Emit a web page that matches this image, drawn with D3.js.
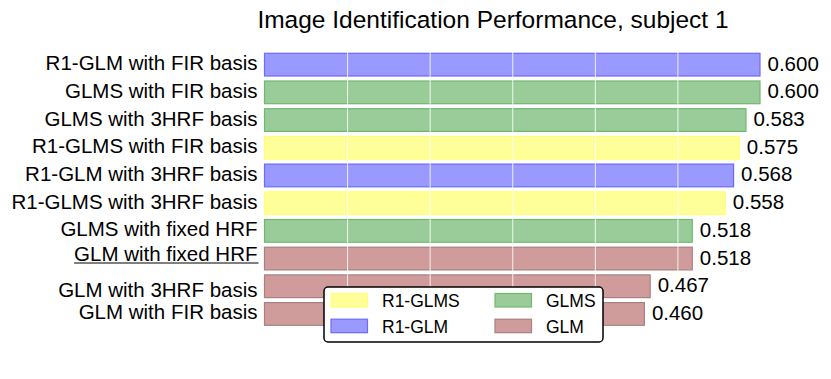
<!DOCTYPE html>
<html>
<head>
<meta charset="utf-8">
<script src="https://cdn.jsdelivr.net/npm/d3@7"></script>
<style>
  body { margin: 0; background: #fff; }
  svg { display: block; font-family: "Liberation Sans", Arial, sans-serif; }
</style>
</head>
<body>
<div id="chart"></div>
<script>
// data, top to bottom
var labels = ["R1-GLM with FIR basis", "GLMS with FIR basis", "GLMS with 3HRF basis",
              "R1-GLMS with FIR basis", "R1-GLM with 3HRF basis", "R1-GLMS with 3HRF basis",
              "GLMS with fixed HRF", "GLM with fixed HRF", "GLM with 3HRF basis", "GLM with FIR basis"];
var models = ["R1-GLM", "GLMS", "GLMS", "R1-GLMS", "R1-GLM", "R1-GLMS", "GLMS", "GLM", "GLM", "GLM"];
var scores = [0.600, 0.600, 0.583, 0.575, 0.568, 0.558, 0.518, 0.518, 0.467, 0.460];
var gridTicks = [0.1, 0.2, 0.3, 0.4, 0.5];
var legendOrder = ["R1-GLMS", "R1-GLM", "GLMS", "GLM"];
var title = "Image Identification Performance, subject 1";

var fills   = {"R1-GLMS": "#ffff99", "R1-GLM": "#9999ff", "GLMS": "#99cc99", "GLM": "#d09b9b"};
var strokes = {"R1-GLMS": "#ffff77", "R1-GLM": "#6a6aff", "GLMS": "#70b870", "GLM": "#a88080"};

var width = 831, height = 379;

var svg = d3.select("#chart").append("svg")
    .attr("width", width)
    .attr("height", height);

var x = d3.scaleLinear().domain([0, 0.6]).range([264.5, 760]);
var y = d3.scaleBand().domain(d3.range(labels.length))
    .range([50.8, 327.8])
    .paddingInner(0.18)
    .paddingOuter(0.09);

var rows = labels.map(function(d, i) {
  return {label: d, model: models[i], score: scores[i], i: i};
});

// bars
svg.selectAll("rect.bar")
    .data(rows)
  .enter().append("rect")
    .attr("class", "bar")
    .attr("x", x(0))
    .attr("y", function(d) { return y(d.i); })
    .attr("width", function(d) { return x(d.score) - x(0); })
    .attr("height", y.bandwidth())
    .attr("fill", function(d) { return fills[d.model]; })
    .attr("stroke", function(d) { return strokes[d.model]; })
    .attr("stroke-width", 1.2);

// white grid over the bars
var grid = svg.append("g")
    .attr("transform", "translate(0," + y.range()[1] + ")")
    .call(d3.axisBottom(x).tickValues(gridTicks).tickFormat("")
          .tickSize(-(y.range()[1] - y.range()[0])));
grid.select(".domain").remove();
grid.selectAll(".tick line")
    .attr("stroke", "#fff")
    .attr("stroke-opacity", 0.85)
    .attr("stroke-width", 1);

// category labels (the last rows sit a little off their bars in the original)
var labelShift = [0, 0, 0, 0, 0, 0, 0, -3.5, 5, 0];
var yAxis = svg.append("g")
    .attr("transform", "translate(" + (x(0) - 7) + ",0)")
    .call(d3.axisLeft(y).tickSize(0).tickFormat(function(i) { return labels[i]; }));
yAxis.select(".domain").remove();
yAxis.selectAll(".tick text")
    .attr("x", 0)
    .attr("dy", null)
    .attr("y", function(i) { return 5.5 + labelShift[i]; })
    .attr("fill", "#000")
    .style("font-family", "'Liberation Sans', Arial, sans-serif")
    .style("font-size", "20.5px");

// underline the baseline model
var baseIdx = labels.indexOf("GLM with fixed HRF");
var baseText = yAxis.selectAll(".tick text").filter(function(i) { return i === baseIdx; });
var bb = baseText.node().getBBox();
var ulY = y(baseIdx) + y.bandwidth() / 2 + 5.5 + labelShift[baseIdx] + 2.5;
svg.append("line")
    .attr("x1", x(0) - 7 - bb.width)
    .attr("x2", x(0) - 6)
    .attr("y1", ulY)
    .attr("y2", ulY)
    .attr("stroke", "#555")
    .attr("stroke-width", 1.5);

// value labels
svg.selectAll("text.val")
    .data(rows)
  .enter().append("text")
    .attr("class", "val")
    .attr("x", function(d) { return x(d.score) + 7.5; })
    .attr("y", function(d) { return y(d.i) + y.bandwidth() / 2 + 6; })
    .style("font-size", "20.5px")
    .text(function(d) { return d3.format(".3f")(d.score); });

// title
svg.append("text")
    .attr("x", 493)
    .attr("y", 28)
    .attr("text-anchor", "middle")
    .style("font-size", "24.5px")
    .text(title);

// legend
var legend = svg.append("g").attr("transform", "translate(324,287)");
legend.append("rect")
    .attr("width", 279)
    .attr("height", 55)
    .attr("rx", 4)
    .attr("fill", "#fff")
    .attr("stroke", "#000")
    .attr("stroke-width", 1.5);

var item = legend.selectAll("g.item")
    .data(legendOrder)
  .enter().append("g")
    .attr("class", "item")
    .attr("transform", function(d, i) {
      return "translate(" + (7 + Math.floor(i / 2) * 164) + "," + (6.5 + (i % 2) * 25.7) + ")";
    });
item.append("rect")
    .attr("width", 36.5)
    .attr("height", 13.5)
    .attr("fill", function(d) { return fills[d]; })
    .attr("stroke", function(d) { return strokes[d]; })
    .attr("stroke-width", 1.2);
item.append("text")
    .attr("x", 51)
    .attr("y", 13.3)
    .style("font-size", "17.5px")
    .text(function(d) { return d; });
</script>
</body>
</html>
